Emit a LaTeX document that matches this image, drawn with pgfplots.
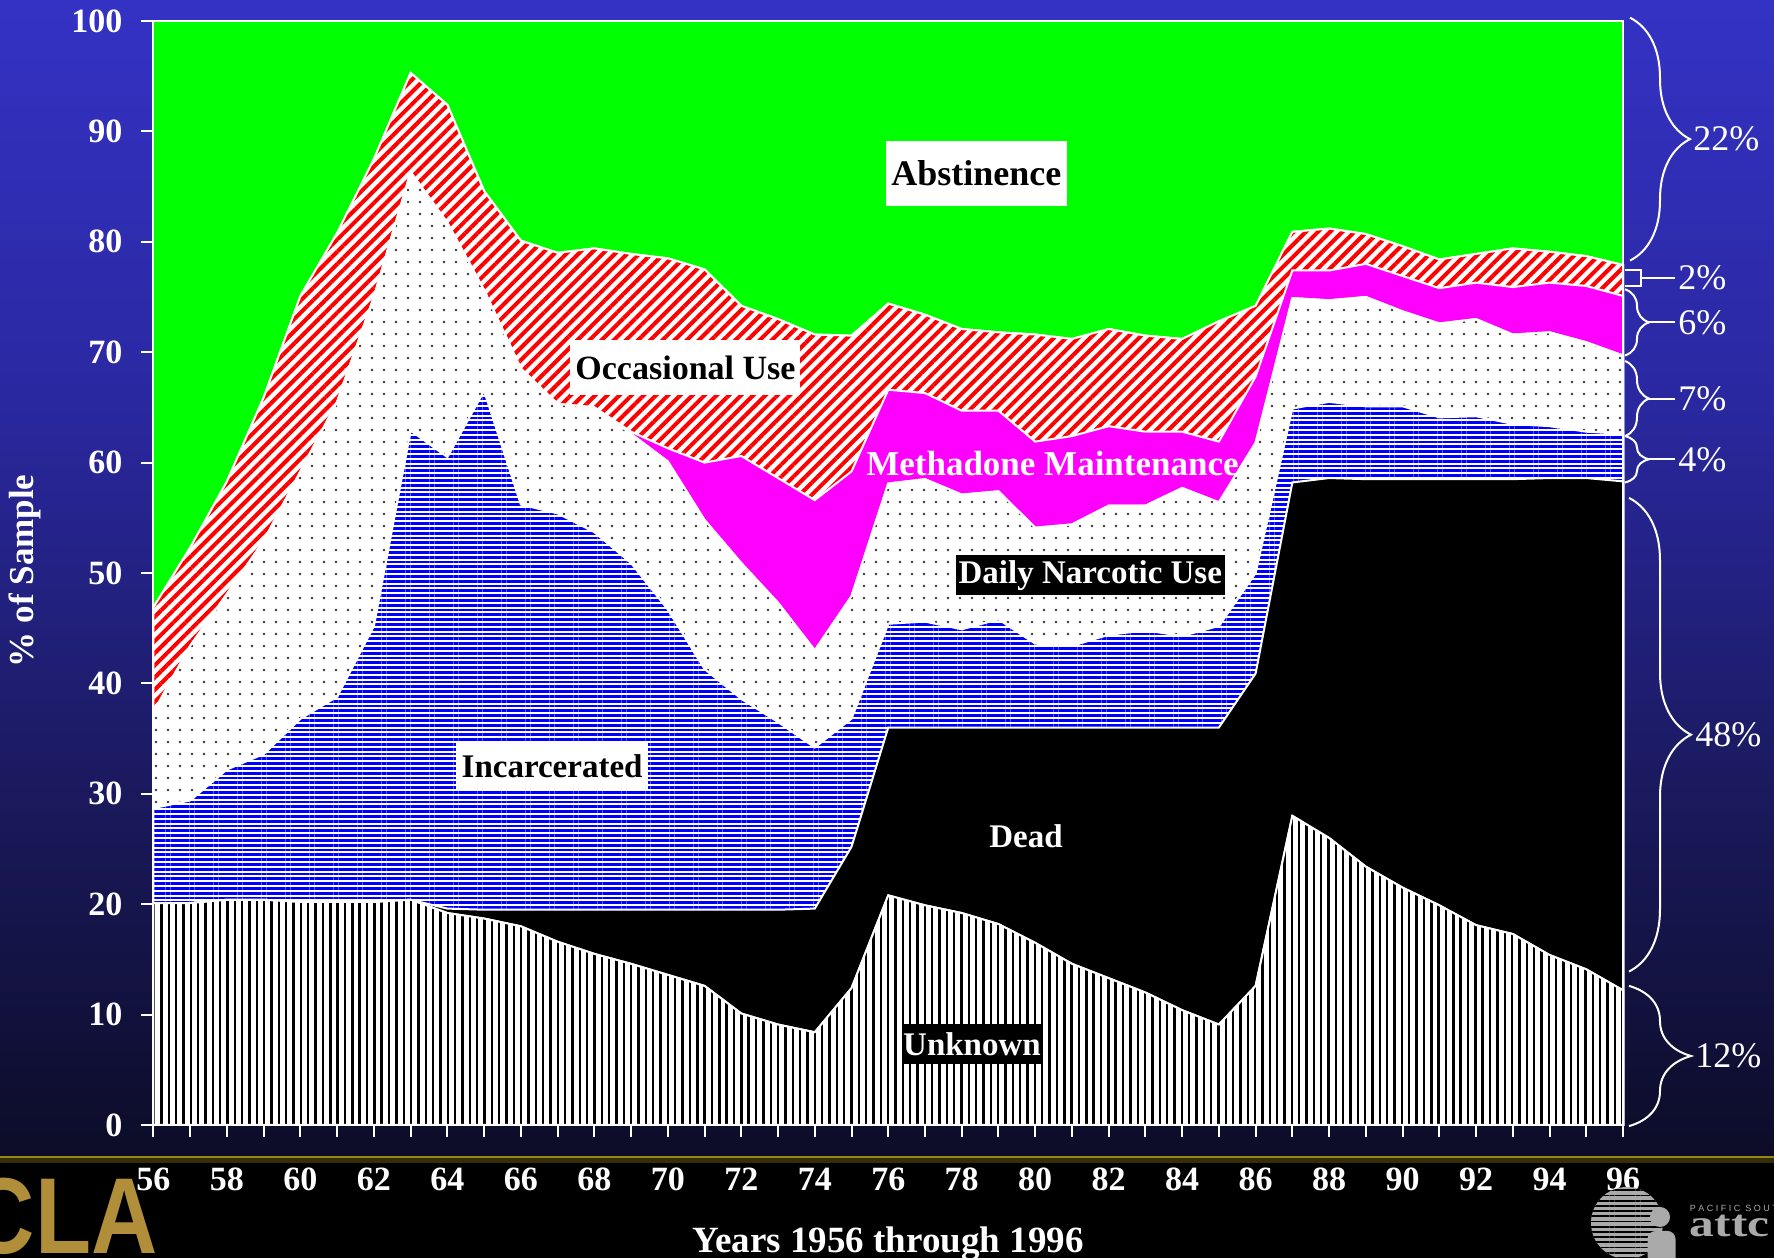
\documentclass[border=0pt]{standalone}
\usepackage{pgfplots}
\pgfplotsset{compat=1.18}
\usepackage{pgfplotstable}
\usepackage{fontspec}
\setmainfont{Liberation Serif}
\newfontfamily\sansfont{Liberation Sans}
\usetikzlibrary{patterns.meta,decorations.pathreplacing}

\definecolor{bgA}{RGB}{52,50,196}
\definecolor{bgB}{RGB}{42,40,160}
\definecolor{bgC}{RGB}{26,25,92}
\definecolor{bgD}{RGB}{12,12,40}
\definecolor{goldline}{RGB}{150,132,20}
\definecolor{uclagold}{RGB}{176,142,58}
\definecolor{logogray}{RGB}{170,170,170}
\definecolor{methmag}{RGB}{255,0,255}
\definecolor{abstgreen}{RGB}{0,255,0}
\definecolor{incblue}{RGB}{0,0,255}
\definecolor{occred}{RGB}{255,0,0}

% cumulative boundaries (% of sample): B1 Unknown, B2 +Dead, B3 +Incarcerated,
% B4 +Daily Narcotic Use, B5 +Methadone Maintenance, B6 +Occasional Use (rest: Abstinence)
\pgfplotstableread{
year B1 B2 B3 B4 B5 B6
56 20.1 20.1 28.7 37.4 37.4 46.9
57 20.1 20.1 29.4 43.4 43.4 52.3
58 20.4 20.4 32.2 48.1 48.1 58.3
59 20.4 20.4 33.6 52.9 52.9 65.9
60 20.2 20.2 36.8 59.2 59.2 75.1
61 20.2 20.2 38.8 65.5 65.5 80.8
62 20.2 20.2 45.2 75.0 75.0 87.5
63 20.4 20.4 62.9 86.3 86.3 95.3
64 19.2 19.6 60.5 81.7 81.7 92.4
65 18.7 19.5 66.5 75.6 75.6 84.6
66 18.0 19.5 56.2 68.5 68.5 80.1
67 16.6 19.5 55.4 65.3 65.3 79.0
68 15.5 19.5 53.7 65.0 65.0 79.4
69 14.6 19.5 50.9 62.6 62.8 78.9
70 13.6 19.5 46.7 60.1 61.3 78.5
71 12.6 19.5 41.3 54.8 60.0 77.5
72 10.1 19.5 38.6 50.9 60.6 74.2
73 9.1 19.5 36.5 47.3 58.6 73.0
74 8.4 19.6 34.2 43.0 56.6 71.6
75 12.4 25.2 36.8 47.9 59.2 71.5
76 20.8 36.0 45.4 58.1 66.6 74.4
77 19.9 36.0 45.6 58.5 66.3 73.4
78 19.2 36.0 44.9 57.1 64.7 72.1
79 18.2 36.0 45.8 57.4 64.7 71.8
80 16.5 36.0 43.6 54.1 61.9 71.6
81 14.6 36.0 43.4 54.4 62.4 71.2
82 13.3 36.0 44.4 56.1 63.3 72.1
83 12.0 36.0 44.8 56.1 62.8 71.5
84 10.4 36.0 44.3 57.7 62.8 71.2
85 9.1 36.0 45.2 56.4 61.9 72.8
86 12.6 40.9 50.0 61.8 67.8 74.2
87 28.0 58.2 64.9 74.9 77.4 80.9
88 26.0 58.6 65.5 74.7 77.4 81.2
89 23.4 58.5 65.1 75.0 78.0 80.7
90 21.5 58.5 65.1 73.7 76.9 79.6
91 19.9 58.5 64.1 72.6 75.8 78.4
92 18.1 58.5 64.2 73.0 76.3 78.9
93 17.3 58.5 63.5 71.6 75.9 79.4
94 15.4 58.6 63.3 71.8 76.3 79.1
95 14.1 58.6 62.8 70.9 76.0 78.7
96 12.2 58.3 62.6 69.7 75.1 77.9
}\data

\begin{document}
\begin{tikzpicture}
\useasboundingbox (-76.75pt,-66.5pt) rectangle (810.25pt,562.5pt);
\clip (-76.75pt,-66.5pt) rectangle (810.25pt,562.5pt);
% background
\shade[top color=bgA, bottom color=bgB] (-76.75pt,362.2pt) rectangle (810.25pt,562.5pt);
\shade[top color=bgB, bottom color=bgC] (-76.75pt,162.2pt) rectangle (810.25pt,362.5pt);
\shade[top color=bgC, bottom color=bgD] (-76.75pt,-15.5pt) rectangle (810.25pt,162.5pt);
\fill[black] (-76.75pt,-66.5pt) rectangle (810.25pt,-15.5pt);
\fill[goldline] (-76.75pt,-16.6pt) rectangle (810.25pt,-15.3pt);
\fill[goldline!35!black] (-76.75pt,-18.8pt) rectangle (810.25pt,-16.6pt);

\begin{axis}[
  at={(0,0)}, anchor=south west,
  scale only axis, width=734.75pt, height=552pt,
  xmin=56, xmax=96, ymin=0, ymax=100,
  axis background/.style={fill=abstgreen},
  axis on top, clip=false, no markers,
  axis line style={white, line width=1pt},
  every tick/.style={white, line width=1pt},
  tick align=outside, tick pos=left,
  major tick length=6pt, minor tick length=6pt,
  xtick={56,58,...,96}, minor xtick={57,59,...,95},
  ytick={0,10,...,100},
  /pgf/number format/assume math mode=true,
  xticklabel style={font=\bfseries\fontsize{17}{20}\selectfont, text=white, yshift=-12pt},
  yticklabel style={font=\bfseries\fontsize{17}{20}\selectfont, text=white, xshift=-6pt},
]
% Occasional Use (top boundary B6)
\addplot[draw=white, line width=1pt, fill=white,
  postaction={pattern={Lines[angle=45,distance=4.3pt,line width=2pt]}, pattern color=occred}]
  table[x=year,y=B6]{\data} \closedcycle;
% Methadone Maintenance
\addplot[draw=white, line width=1pt, fill=methmag]
  table[x=year,y=B5]{\data} \closedcycle;
% Daily Narcotic Use
\addplot[draw=white, line width=1pt, fill=white,
  postaction={pattern={Dots[distance=6pt,radius=0.65pt]}, pattern color=black!80}]
  table[x=year,y=B4]{\data} \closedcycle;
% Incarcerated
\addplot[draw=white, line width=1pt, fill=white,
  postaction={pattern={Lines[angle=0,distance=2.4pt,line width=1.4pt]}, pattern color=incblue}]
  table[x=year,y=B3]{\data} \closedcycle;
% Dead
\addplot[draw=white, line width=1pt, fill=black]
  table[x=year,y=B2]{\data} \closedcycle;
% Unknown
\addplot[draw=white, line width=1pt, fill=white,
  postaction={pattern={Lines[angle=90,distance=3.67pt,line width=1.2pt]}, pattern color=black}]
  table[x=year,y=B1]{\data} \closedcycle;

% area labels
\node[fill=white, text=black, font=\bfseries\fontsize{18}{20}\selectfont, minimum width=90.5pt, minimum height=32.5pt, inner sep=0pt] at (axis cs:78.4,86.2) {Abstinence};
\node[fill=white, text=black, font=\bfseries\fontsize{17}{20}\selectfont, minimum width=115pt, minimum height=27.5pt, inner sep=0pt] at (axis cs:70.48,68.6) {Occasional Use};
\node[text=white, font=\bfseries\fontsize{17.5}{20}\selectfont, inner sep=0pt] at (axis cs:80.47,59.9) {Methadone Maintenance};
\node[fill=black, text=white, font=\bfseries\fontsize{16.5}{20}\selectfont, minimum width=134.5pt, minimum height=20pt, inner sep=0pt] at (axis cs:81.5,49.8) {Daily Narcotic Use};
\node[fill=white, text=black, font=\bfseries\fontsize{16.5}{20}\selectfont, minimum width=96pt, minimum height=24pt, inner sep=0pt] at (axis cs:66.85,32.5) {Incarcerated};
\node[text=white, font=\bfseries\fontsize{16.5}{20}\selectfont, inner sep=0pt] at (axis cs:79.75,26.2) {Dead};
\node[fill=black, text=white, font=\bfseries\fontsize{16.5}{20}\selectfont, minimum width=67.6pt, minimum height=20pt, inner sep=0pt] at (axis cs:78.28,7.3) {Unknown};

% right-hand braces (1996 shares)
\begin{scope}[white, line width=1pt]
\draw[decorate, decoration={brace, amplitude=30pt}] ([xshift=3.5pt]axis cs:96,100.3) -- ([xshift=3.5pt]axis cs:96,78.3);
\draw ([xshift=1pt]axis cs:96,77.4) -- ([xshift=9pt]axis cs:96,77.4) -- ([xshift=9pt]axis cs:96,76.0) -- ([xshift=1pt]axis cs:96,76.0);
\draw ([xshift=9pt]axis cs:96,76.7) -- ([xshift=26pt]axis cs:96,76.7);
\draw[decorate, decoration={brace, amplitude=12pt}] ([xshift=1pt]axis cs:96,75.7) -- ([xshift=1pt]axis cs:96,69.7);
\draw ([xshift=13pt]axis cs:96,72.7) -- ([xshift=26pt]axis cs:96,72.7);
\draw[decorate, decoration={brace, amplitude=12pt}] ([xshift=1pt]axis cs:96,69.2) -- ([xshift=1pt]axis cs:96,62.4);
\draw ([xshift=13pt]axis cs:96,65.8) -- ([xshift=26pt]axis cs:96,65.8);
\draw[decorate, decoration={brace, amplitude=12pt}] ([xshift=1pt]axis cs:96,62.4) -- ([xshift=1pt]axis cs:96,58.2);
\draw ([xshift=13pt]axis cs:96,60.3) -- ([xshift=26pt]axis cs:96,60.3);
\draw[decorate, decoration={brace, amplitude=31pt}] ([xshift=3pt]axis cs:96,56.8) -- ([xshift=3pt]axis cs:96,13.9);
\draw[decorate, decoration={brace, amplitude=31pt}] ([xshift=3pt]axis cs:96,12.6) -- ([xshift=3pt]axis cs:96,-0.1);
\end{scope}
\begin{scope}[every node/.style={text=white, anchor=west, inner sep=0pt, font=\fontsize{18}{20}\selectfont}]
\node at ([xshift=35pt]axis cs:96,89.3) {22\%};
\node at ([xshift=27.5pt]axis cs:96,76.7) {2\%};
\node at ([xshift=27.5pt]axis cs:96,72.7) {6\%};
\node at ([xshift=27.5pt]axis cs:96,65.8) {7\%};
\node at ([xshift=27.5pt]axis cs:96,60.3) {4\%};
\node at ([xshift=36pt]axis cs:96,35.35) {48\%};
\node at ([xshift=36pt]axis cs:96,6.25) {12\%};
\end{scope}

% axis titles
\node[rotate=90, text=white, font=\bfseries\fontsize{17.5}{20}\selectfont] at (axis description cs:-0.0874,0.502) {\% of Sample};
\node[anchor=base, text=white, font=\bfseries\fontsize{18.5}{20}\selectfont, inner sep=0pt] at (axis description cs:0.5,-0.1159) {Years 1956 through 1996};
\end{axis}

% logos at the bottom
\node[anchor=base east, text=uclagold, font=\sansfont\bfseries\fontsize{54}{56}\selectfont, inner sep=0pt] at (2.25pt,-64.5pt) {\scalebox{0.85}[1]{UCLA}};
\fill[logogray] (736.75pt,-49pt) circle (18pt);
\fill[pattern={Lines[angle=0,distance=2.6pt,line width=0.9pt]}, pattern color=black] (736.75pt,-49pt) circle (18pt);
\fill[logogray] (753.25pt,-46pt) circle (5pt);
\fill[logogray, rounded corners=4pt] (747pt,-53pt) rectangle (761pt,-72pt);
\node[anchor=base west, text=logogray, font=\sansfont\fontsize{4.5}{5}\selectfont, inner sep=0pt] at (768pt,-43.5pt) {P A C I F I C \ S O U T H W E S T};
\node[anchor=base west, text=logogray, font=\bfseries\fontsize{19}{20}\selectfont, inner sep=0pt] at (768pt,-56pt) {\scalebox{1.3}[1]{attc}};
\end{tikzpicture}
\end{document}
